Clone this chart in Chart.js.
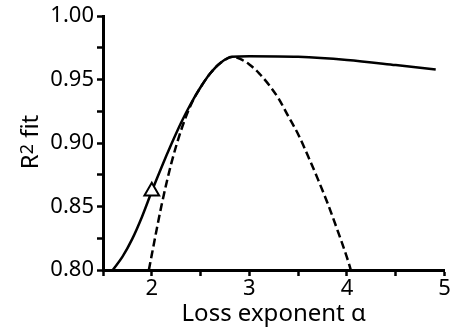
<!DOCTYPE html>
<html>
<head>
<meta charset="utf-8">
<script src="https://cdn.jsdelivr.net/npm/chart.js@4"></script>
<style>
  html, body { margin: 0; padding: 0; background: #fff; }
</style>
</head>
<body>
<canvas id="chartFit" width="455" height="332"></canvas>
<script>
// values
const solidX = [1.60, 1.70, 1.80, 1.90, 2.00, 2.10, 2.20, 2.30, 2.40, 2.50, 2.60, 2.70, 2.82, 3.00, 3.50, 4.00, 4.50, 4.91];
const solidY = [0.800, 0.8105, 0.8245, 0.842, 0.862, 0.881, 0.899, 0.916, 0.931, 0.944, 0.955, 0.963, 0.968, 0.9685, 0.968, 0.9655, 0.9615, 0.958];

const dashX = [1.97, 2.00, 2.10, 2.20, 2.30, 2.40, 2.50, 2.60, 2.70, 2.84, 2.90, 3.00, 3.10, 3.20, 3.30, 3.40, 3.50, 3.60, 3.70, 3.80, 3.90, 4.00, 4.04];
const dashY = [0.800, 0.812, 0.851, 0.884, 0.910, 0.930, 0.944, 0.955, 0.963, 0.968, 0.9665, 0.962, 0.955, 0.946, 0.935, 0.921, 0.907, 0.890, 0.872, 0.853, 0.832, 0.810, 0.800];

const markerX = [2.00];
const markerY = [0.862];

const xTicks = [2, 3, 4, 5];
const yTicks = [0.80, 0.85, 0.90, 0.95, 1.00];

const toPoints = (xs, ys) => xs.map((x, i) => ({ x: x, y: ys[i] }));

const fontTick = { family: 'Noto Sans', size: 22 };
const fontTitle = { family: 'Noto Sans', size: 24 };

// y axis title with a real superscript 2
const yTitlePlugin = {
    id: 'yTitle',
    afterDraw(chart) {
        const c = chart.ctx;
        const parts = [
            { t: 'R', f: '24px "Noto Sans"', dy: 0 },
            { t: '2', f: '18px "Noto Sans"', dy: -5 },
            { t: ' fit', f: '24px "Noto Sans"', dy: 0 }
        ];
        c.save();
        c.fillStyle = '#000';
        c.textBaseline = 'alphabetic';
        let total = 0;
        parts.forEach(p => { c.font = p.f; p.w = c.measureText(p.t).width; total += p.w; });
        c.translate(38, 142);
        c.rotate(-Math.PI / 2);
        let u = -total / 2;
        parts.forEach(p => {
            c.font = p.f;
            c.fillText(p.t, u, p.dy);
            u += p.w;
        });
        c.restore();
    }
};

const ctx = document.getElementById('chartFit').getContext('2d');

const chartFit = new Chart(ctx, {
    type: 'scatter',
    data: {
        datasets: [{
            label: 'marker',
            data: toPoints(markerX, markerY),
            pointStyle: 'triangle',
            pointRadius: 8.5,
            pointBackgroundColor: '#fff',
            pointBorderColor: '#000',
            pointBorderWidth: 2,
            showLine: false
        }, {
            label: 'fit',
            data: toPoints(solidX, solidY),
            showLine: true,
            borderColor: '#000',
            borderWidth: 2.5,
            pointRadius: 0,
            cubicInterpolationMode: 'monotone'
        }, {
            label: 'parabola',
            data: toPoints(dashX, dashY),
            showLine: true,
            borderColor: '#000',
            borderWidth: 2.5,
            borderDash: [8, 4],
            pointRadius: 0,
            cubicInterpolationMode: 'monotone'
        }]
    },
    plugins: [yTitlePlugin],
    options: {
        responsive: false,
        animation: false,
        devicePixelRatio: 1,
        layout: { padding: { top: 16, right: 6, left: 0, bottom: 0 } },
        plugins: {
            legend: { display: false },
            tooltip: { enabled: false }
        },
        scales: {
            x: {
                type: 'linear',
                min: 1.5,
                max: 5,
                afterFit: s => { s.height = 62; },
                border: { display: true, color: '#000', width: 3 },
                grid: { drawOnChartArea: false, drawTicks: true, tickLength: 6, tickWidth: 2.5, tickColor: '#000' },
                ticks: {
                    stepSize: 0.5,
                    color: '#000',
                    font: fontTick,
                    padding: 0,
                    maxRotation: 0,
                    autoSkip: false,
                    callback: v => xTicks.includes(v) ? String(v) : ''
                },
                title: { display: true, text: 'Loss exponent α', color: '#000', font: fontTitle, padding: { top: 0, bottom: 3 } }
            },
            y: {
                min: 0.8,
                max: 1.0,
                afterFit: s => { s.width = 103; },
                border: { display: true, color: '#000', width: 3 },
                grid: { drawOnChartArea: false, drawTicks: true, tickLength: 6, tickWidth: 2.5, tickColor: '#000' },
                ticks: {
                    stepSize: 0.025,
                    color: '#000',
                    font: fontTick,
                    padding: 3,
                    autoSkip: false,
                    callback: v => yTicks.some(t => Math.abs(t - v) < 1e-6) ? v.toFixed(2) : ''
                },
                title: { display: false }
            }
        }
    }
});
</script>
</body>
</html>
